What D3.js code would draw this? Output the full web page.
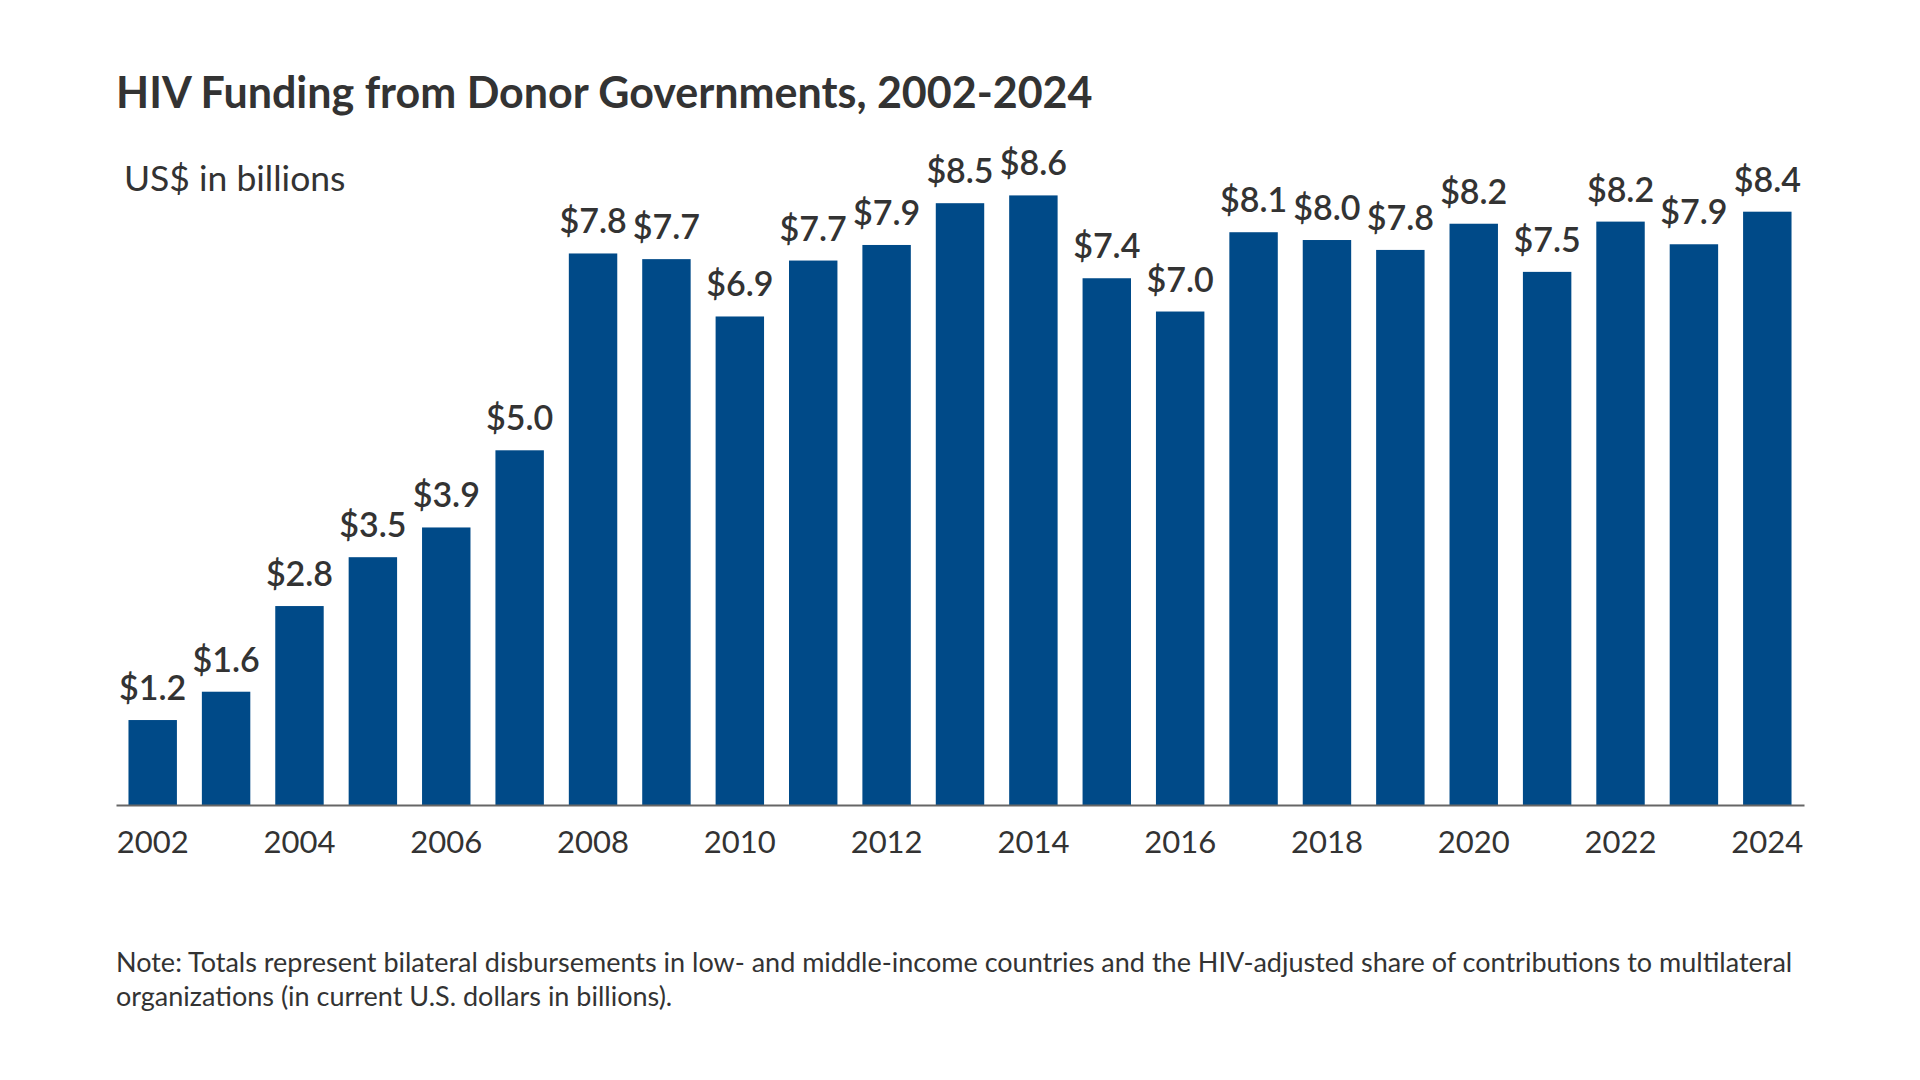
<!DOCTYPE html>
<html>
<head>
<meta charset="utf-8">
<script src="https://cdn.jsdelivr.net/npm/d3@7"></script>
<style>
    body { margin: 0; background: #fff; }
    svg { display: block; font-family: Lato, "Noto Sans", sans-serif; }
</style>
</head>
<body>
<div id="chart"></div>
<script>
// data
const years = ['2002', '2003', '2004', '2005', '2006', '2007', '2008', '2009', '2010', '2011', '2012',
    '2013', '2014', '2015', '2016', '2017', '2018', '2019', '2020', '2021', '2022', '2023', '2024'];
const funding = [1.2, 1.6, 2.81, 3.5, 3.92, 5.01, 7.79, 7.71, 6.9, 7.69, 7.91,
    8.5, 8.61, 7.44, 6.97, 8.09, 7.98, 7.84, 8.21, 7.53, 8.24, 7.92, 8.38];
const tickYears = ['2002', '2004', '2006', '2008', '2010', '2012', '2014', '2016', '2018', '2020', '2022', '2024'];

const titleText = 'HIV Funding from Donor Governments, 2002-2024';
const unitText = 'US$ in billions';
const noteLines = [
    'Note: Totals represent bilateral disbursements in low- and middle-income countries and the HIV-adjusted share of contributions to multilateral',
    'organizations (in current U.S. dollars in billions).'
];

const width = 1920, height = 1080;
const margin = { top: 97, right: 116, bottom: 275, left: 116 };

const data = years.map((y, i) => ({ year: y, value: funding[i] }));

const svg = d3.select('#chart')
    .append('svg')
    .attr('width', width)
    .attr('height', height);

// scales
const xScale = d3.scaleBand()
    .domain(years)
    .range([margin.left, width - margin.right])
    .paddingInner(0.34)
    .paddingOuter(0.17);

const yScale = d3.scaleLinear()
    .domain([0, 10])
    .range([height - margin.bottom, margin.top]);

// title + unit
svg.append('text')
    .attr('x', 116)
    .attr('y', 108)
    .attr('fill', '#333')
    .style('font-size', '43px')
    .style('font-weight', 700)
    .text(titleText);

svg.append('text')
    .attr('x', 124)
    .attr('y', 191)
    .attr('fill', '#333')
    .style('font-size', '35.5px')
    .text(unitText);

// bars
svg.selectAll('.bar')
    .data(data)
    .join('rect')
    .attr('class', 'bar')
    .attr('x', d => xScale(d.year))
    .attr('y', d => yScale(d.value))
    .attr('width', xScale.bandwidth())
    .attr('height', d => yScale(0) - yScale(d.value))
    .attr('fill', '#004a88');

// value labels
svg.selectAll('.val')
    .data(data)
    .join('text')
    .attr('class', 'val')
    .attr('x', d => xScale(d.year) + xScale.bandwidth() / 2)
    .attr('y', d => yScale(d.value) - 20)
    .attr('text-anchor', 'middle')
    .attr('fill', '#333')
    .style('font-size', '34px')
    .style('font-weight', 600)
    .text(d => '$' + d.value.toFixed(1));

// x axis
const xAxis = d3.axisBottom(xScale)
    .tickValues(tickYears)
    .tickSize(0)
    .tickPadding(26);

const gx = svg.append('g')
    .attr('class', 'x-axis')
    .attr('transform', `translate(0, ${yScale(0)})`)
    .call(xAxis);

gx.select('.domain')
    .attr('stroke', '#666')
    .attr('stroke-width', 2);

gx.selectAll('text')
    .attr('fill', '#333')
    .attr('dy', '0.71em')
    .style('font-family', 'Lato, "Noto Sans", sans-serif')
    .style('font-size', '31px');

// note
svg.selectAll('.note')
    .data(noteLines)
    .join('text')
    .attr('class', 'note')
    .attr('x', 116)
    .attr('y', (d, i) => 972 + i * 34)
    .attr('fill', '#333')
    .style('font-size', '27px')
    .text(d => d);
</script>
</body>
</html>
